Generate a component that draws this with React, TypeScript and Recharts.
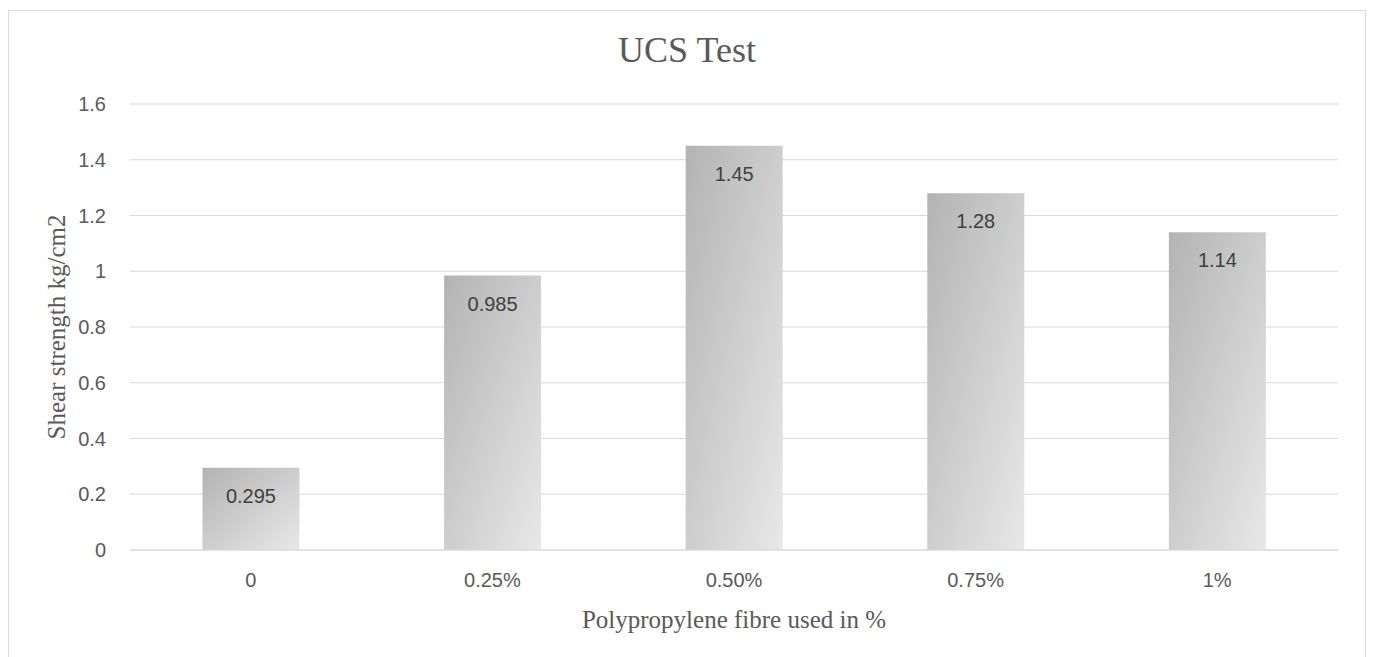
import React from 'react';
import { Bar, BarChart, CartesianGrid, Label, LabelList, XAxis, YAxis } from 'recharts';

const categories = ['0', '0.25%', '0.50%', '0.75%', '1%'];
const strength = [0.295, 0.985, 1.45, 1.28, 1.14];
const yTicks = [0, 0.2, 0.4, 0.6, 0.8, 1, 1.2, 1.4, 1.6];

const data = categories.map((name, i) => ({ name, value: strength[i] }));

const W = 1356;
const H = 646;
const serif = '"Liberation Serif", "Times New Roman", serif';
const sans = '"Liberation Sans", Arial, sans-serif';

export default function App() {
  return (
    <div
      style={{
        position: 'relative',
        width: W,
        height: H,
        marginTop: 2,
        border: '1px solid #d9d9d9',
        background: '#fff',
      }}
    >
      <div
        style={{
          position: 'absolute',
          left: 0,
          right: 0,
          top: 21,
          textAlign: 'center',
          fontFamily: serif,
          fontSize: 36,
          color: '#595959',
          lineHeight: '36px',
        }}
      >
        UCS Test
      </div>
      <BarChart
        width={W}
        height={H}
        data={data}
        margin={{ top: 93, right: 27, bottom: 47, left: 0 }}
        barCategoryGap='30%'
      >
        <defs>
          <linearGradient id='barFill' x1='0' y1='0' x2='1' y2='1'>
            <stop offset='0%' stopColor='#b3b3b3' />
            <stop offset='100%' stopColor='#e8e8e8' />
          </linearGradient>
        </defs>
        <CartesianGrid vertical={false} stroke='#d9d9d9' strokeWidth={1} />
        <XAxis
          dataKey='name'
          axisLine={{ stroke: '#d9d9d9' }}
          tickLine={false}
          tickSize={0}
          tickMargin={23}
          height={60}
          tick={{ fill: '#595959', fontSize: 20, fontFamily: sans }}
        >
          <Label
            content={({ viewBox }: any) => (
              <text
                x={W / 2 + 47}
                y={viewBox.y + 78}
                textAnchor='middle'
                fill='#595959'
                fontSize={25}
                fontFamily={serif}
              >
                Polypropylene fibre used in %
              </text>
            )}
          />
        </XAxis>
        <YAxis
          domain={[0, 1.6]}
          ticks={yTicks}
          width={121}
          axisLine={false}
          tickLine={false}
          tickSize={0}
          tickMargin={24}
          tick={{ fill: '#595959', fontSize: 20, fontFamily: sans }}
        >
          <Label
            content={({ viewBox }: any) => {
              const cy = viewBox.y + viewBox.height / 2;
              return (
                <text
                  x={56}
                  y={cy}
                  transform={`rotate(-90 56 ${cy})`}
                  textAnchor='middle'
                  fill='#595959'
                  fontSize={25}
                  fontFamily={serif}
                >
                  Shear strength kg/cm2
                </text>
              );
            }}
          />
        </YAxis>
        <Bar dataKey='value' fill='url(#barFill)' isAnimationActive={false}>
          <LabelList
            dataKey='value'
            position='insideTop'
            offset={21}
            fill='#404040'
            fontSize={20}
            fontFamily={sans}
          />
        </Bar>
      </BarChart>
    </div>
  );
}
